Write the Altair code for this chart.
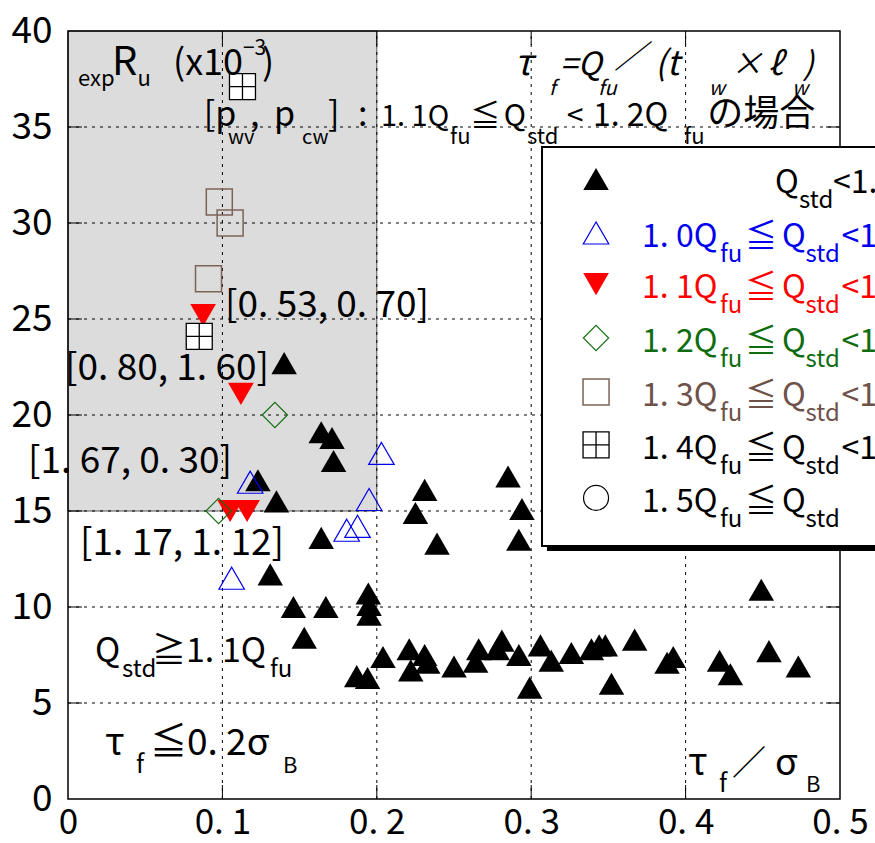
import altair as alt
import pandas as pd

# ---------------- data (x = tau_f / sigma_B, y = expRu x10^-3) ----------------
black_x = [0.140, 0.164, 0.171, 0.172, 0.123, 0.135, 0.164, 0.131, 0.1945, 0.195, 0.195,
           0.146, 0.167, 0.153, 0.187, 0.194, 0.204, 0.221, 0.222, 0.231, 0.233, 0.250,
           0.266, 0.264, 0.281, 0.278, 0.292, 0.299, 0.306, 0.313, 0.326, 0.339, 0.344,
           0.348, 0.352, 0.367, 0.392, 0.388, 0.422, 0.429, 0.454, 0.473, 0.449, 0.231,
           0.225, 0.239, 0.285, 0.294, 0.292]
black_y = [22.7, 19.1, 18.8, 17.6, 16.6, 15.5, 13.6, 11.7, 10.7, 10.1, 9.6,
           10.0, 10.0, 8.4, 6.4, 6.3, 7.4, 7.8, 6.7, 7.5, 7.1, 6.9,
           7.8, 7.15, 8.25, 7.8, 7.5, 5.8, 8.0, 7.2, 7.6, 7.8, 8.0,
           8.0, 6.0, 8.3, 7.4, 7.1, 7.2, 6.5, 7.7, 6.9, 10.9, 16.1,
           14.9, 13.3, 16.8, 15.1, 13.5]
blue_x = [0.118, 0.203, 0.195, 0.1805, 0.1875, 0.106]
blue_y = [16.5, 18.0, 15.6, 14.0, 14.2, 11.5]
red_x = [0.0875, 0.112, 0.105, 0.116]
red_y = [25.2, 21.1, 15.0, 15.0]
green_x = [0.134, 0.0975]
green_y = [20.0, 15.0]
brown_x = [0.098, 0.105, 0.091]
brown_y = [31.1, 30.0, 27.1]
grid_x = [0.113, 0.085]
grid_y = [37.1, 24.1]
circle_x = []
circle_y = []

x_ticks = [0, 0.1, 0.2, 0.3, 0.4, 0.5]
y_ticks = [0, 5, 10, 15, 20, 25, 30, 35, 40]
shade_x = [0, 0.2]
shade_y = [15, 40]

legend_lo = [None, "1. 0", "1. 1", "1. 2", "1. 3", "1. 4", "1. 5"]
legend_hi = ["1. 0", "1. 1", "1. 2", "1. 3", "1. 4", "1. 5", None]

# ---------------- styling ----------------
BLUE = "#0000ee"
RED = "#ff0000"
GREEN = "#106c10"
BROWN_TXT = "#6e5249"
BROWN_MK = "#7d6259"
FONT_MAIN = "'Noto Sans CJK JP', sans-serif"
FONT_SUB = "'Noto Sans CJK JP', sans-serif"
GRIDSQ = "M-1,-1H1V1H-1Z M0,-1V1 M-1,0H1"

legend_colors = ["black", BLUE, RED, GREEN, BROWN_TXT, "black", "black"]
legend_mx = 0.342
legend_my = [32.29, 29.48, 26.82, 24.01, 21.20, 18.44, 15.68]

XS = alt.Scale(domain=[0, 0.5], nice=False, zero=False)
YS = alt.Scale(domain=[0, 40], nice=False, zero=False)


def X(field="x", axis=None):
    if axis is None:
        return alt.X(f"{field}:Q", scale=XS, title=None)
    return alt.X(f"{field}:Q", scale=XS, title=None, axis=axis)


def Y(field="y", axis=None):
    if axis is None:
        return alt.Y(f"{field}:Q", scale=YS, title=None)
    return alt.Y(f"{field}:Q", scale=YS, title=None, axis=axis)


def pts(xs, ys):
    return pd.DataFrame({"x": xs, "y": ys})


layers = []

# shaded region + axes
x_axis = alt.Axis(values=x_ticks,
                  labelExpr="datum.value == 0 ? '0' : replace(format(datum.value, '.1f'), '.', '. ')",
                  labelFont=FONT_MAIN, labelFontSize=35, labelColor="black", ticks=False,
                  domain=False, grid=False, labelPadding=6, labelFlush=False, labelOverlap=False)
y_axis = alt.Axis(values=y_ticks, format="d", labelFont=FONT_MAIN, labelFontSize=37,
                  labelColor="black", ticks=False, domain=False, grid=False, labelPadding=16,
                  labelOverlap=False)
shade = pd.DataFrame({"x": [shade_x[0]], "x2": [shade_x[1]], "y": [shade_y[0]], "y2": [shade_y[1]]})
layers.append(alt.Chart(shade).mark_rect(fill="#dcdcdc", stroke="#555555", strokeWidth=1).encode(
    x=X(axis=x_axis), x2="x2:Q", y=Y(axis=y_axis), y2="y2:Q"))

# dotted grid
vg = pd.DataFrame({"v": x_ticks[1:-1]})
hg = pd.DataFrame({"v": y_ticks[1:-1]})
layers.append(alt.Chart(vg).mark_rule(color="black", strokeWidth=1, strokeDash=[3, 5]).encode(
    x=X("v"), y=alt.datum(0, scale=YS), y2=alt.datum(40)))
layers.append(alt.Chart(hg).mark_rule(color="black", strokeWidth=1, strokeDash=[3, 5]).encode(
    y=Y("v"), x=alt.datum(0, scale=XS), x2=alt.datum(0.5)))

# frame
frame = pd.DataFrame({"x": [0], "x2": [0.5], "y": [0], "y2": [40]})
layers.append(alt.Chart(frame).mark_rect(fill="white", fillOpacity=0, stroke="black", strokeWidth=1.5).encode(
    x=X(), x2="x2:Q", y=Y(), y2="y2:Q"))

# inward ticks
layers.append(alt.Chart(vg).mark_rule(color="black", strokeWidth=1).encode(
    x=X("v"), y=alt.value(768), y2=alt.value(754)))
layers.append(alt.Chart(vg).mark_rule(color="black", strokeWidth=1).encode(
    x=X("v"), y=alt.value(0), y2=alt.value(14)))
layers.append(alt.Chart(hg).mark_rule(color="black", strokeWidth=1).encode(
    y=Y("v"), x=alt.value(0), x2=alt.value(14)))
layers.append(alt.Chart(hg).mark_rule(color="black", strokeWidth=1).encode(
    y=Y("v"), x=alt.value(758), x2=alt.value(772)))

# marker styles
styles = [
    dict(shape="triangle-up", filled=True, color="black", size=650, strokeWidth=0),
    dict(shape="triangle-up", filled=False, color=BLUE, size=650, strokeWidth=1.2),
    dict(shape="triangle-down", filled=True, color=RED, size=660, strokeWidth=0),
    dict(shape="diamond", filled=False, color=GREEN, size=640, strokeWidth=1.1),
    dict(shape="square", filled=False, color=BROWN_MK, size=676, strokeWidth=1.5),
    dict(shape=GRIDSQ, filled=True, fill="white", stroke="black", size=676, strokeWidth=1.3),
    dict(shape="circle", filled=False, color="black", size=625, strokeWidth=1.2),
]
series = [(black_x, black_y), (blue_x, blue_y), (red_x, red_y), (green_x, green_y),
          (brown_x, brown_y), (grid_x, grid_y), (circle_x, circle_y)]


def marker(df, st):
    return alt.Chart(df).mark_point(opacity=1, **st).encode(x=X(), y=Y())


for (xs, ys), st in zip(series, styles):
    if len(xs):
        layers.append(marker(pts(xs, ys), st))

# legend box
shadow = pd.DataFrame({"x": [0.3102], "x2": [0.56], "y": [12.92], "y2": [33.70]})
box = pd.DataFrame({"x": [0.307], "x2": [0.56], "y": [13.18], "y2": [33.96]})
layers.append(alt.Chart(shadow).mark_rect(fill="black").encode(x=X(), x2="x2:Q", y=Y(), y2="y2:Q"))
layers.append(alt.Chart(box).mark_rect(fill="white", stroke="black", strokeWidth=2).encode(
    x=X(), x2="x2:Q", y=Y(), y2="y2:Q"))
for i, st in enumerate(styles):
    layers.append(marker(pts([legend_mx], [legend_my[i]]), st))

main_rows = []
sub_rows = []
for i in range(7):
    c = legend_colors[i]
    ym = legend_my[i] - 0.73
    ys = legend_my[i] - 1.51
    if legend_lo[i] is None:
        main_rows.append(("Q", 0.4579, ym, 32, c))
        sub_rows.append(("std", 0.4735, ys, 24, c))
        main_rows.append(("<" + legend_hi[i] + "Q", 0.4955, ym, 32, c))
    else:
        main_rows.append((legend_lo[i] + "Q", 0.3718, ym, 32, c))
        sub_rows.append(("fu", 0.4223, ys, 24, c))
        main_rows.append(("≦", 0.4385, ym, 32, c))
        main_rows.append(("Q", 0.4625, ym, 32, c))
        sub_rows.append(("std", 0.4777, ys, 24, c))
        if legend_hi[i] is not None:
            main_rows.append(("<" + legend_hi[i] + "Q", 0.5010, ym, 32, c))

# annotations (data coordinates)
main_rows += [
    ("R", 0.0285, 37.71, 40, "black"),
    ("(x10", 0.0680, 37.71, 36, "black"),
    (")", 0.1256, 37.71, 36, "black"),
    ("[p", 0.0880, 35.05, 34, "black"),
    (",", 0.1179, 35.05, 34, "black"),
    ("p", 0.1334, 35.05, 34, "black"),
    ("]", 0.1684, 35.05, 34, "black"),
    (":", 0.1878, 35.05, 34, "black"),
    ("1. 1Q", 0.2027, 35.05, 29, "black"),
    ("≦", 0.2605, 35.05, 30, "black"),
    ("Q", 0.2823, 35.05, 30, "black"),
    ("<", 0.3230, 35.05, 30, "black"),
    ("1. 2Q", 0.3400, 35.05, 32, "black"),
    ("の場合", 0.4140, 35.05, 36, "black"),
    ("[0. 53, 0. 70]", 0.1017, 25.10, 37, "black"),
    ("[0. 80, 1. 60]", -0.0019, 21.82, 37, "black"),
    ("[1. 67, 0. 30]", -0.0259, 16.98, 37, "black"),
    ("[1. 17, 1. 12]", 0.0078, 12.71, 37, "black"),
    ("Q", 0.0175, 7.135, 34, "black"),
    ("≧1. 1Q", 0.0544, 7.135, 34, "black"),
    ("τ", 0.0240, 2.29, 38, "black"),
    ("≦0. 2σ", 0.0531, 2.29, 37, "black"),
    ("τ", 0.4016, 1.25, 38, "black"),
    ("／", 0.4301, 1.25, 34, "black"),
    ("σ", 0.4579, 1.25, 37, "black"),
]
sub_rows += [
    ("exp", 0.0065, 37.14, 22, "black"),
    ("u", 0.0450, 37.14, 22, "black"),
    ("−3", 0.1133, 38.75, 21, "black"),
    ("wv", 0.1036, 34.11, 20, "black"),
    ("cw", 0.1516, 34.11, 20, "black"),
    ("fu", 0.2474, 34.11, 22, "black"),
    ("std", 0.2973, 34.11, 22, "black"),
    ("fu", 0.3990, 34.11, 22, "black"),
    ("std", 0.0350, 6.354, 24, "black"),
    ("fu", 0.1308, 6.354, 24, "black"),
    ("f", 0.0440, 1.354, 25, "black"),
    ("B", 0.1392, 1.354, 22, "black"),
    ("f", 0.4216, 0.365, 25, "black"),
    ("B", 0.4780, 0.365, 22, "black"),
]
ital_main = [
    ("τ", 0.2890, 37.71, 36, "black"),
    ("=Q", 0.3187, 37.71, 32, "black"),
    ("／", 0.3540, 38.07, 32, "black"),
    ("(t", 0.3802, 37.71, 34, "black"),
    ("×", 0.4294, 37.71, 32, "black"),
    ("ℓ", 0.4534, 37.71, 32, "black"),
    (")", 0.4760, 37.71, 32, "black"),
]
ital_sub = [
    ("f", 0.3115, 36.67, 20, "black"),
    ("fu", 0.3433, 36.67, 20, "black"),
    ("w", 0.4150, 36.67, 20, "black"),
    ("w", 0.4689, 36.67, 20, "black"),
]


def text_layer(rows, font, italic=False):
    df = pd.DataFrame(rows, columns=["text", "x", "y", "size", "color"])
    return alt.Chart(df).mark_text(
        align="left", baseline="alphabetic", font=font,
        fontStyle="italic" if italic else "normal").encode(
        x=X(), y=Y(), text="text:N",
        size=alt.Size("size:Q", scale=None),
        color=alt.Color("color:N", scale=None))


layers.append(text_layer(main_rows, FONT_MAIN))
layers.append(text_layer(sub_rows, FONT_SUB))
layers.append(text_layer(ital_main, FONT_MAIN, italic=True))
layers.append(text_layer(ital_sub, FONT_SUB, italic=True))

chart = alt.layer(*layers).properties(
    width=772, height=768,
    padding={"left": 68, "top": 31, "right": 35, "bottom": 44},
    autosize=alt.AutoSizeParams(type="none"),
    background="white",
).configure_view(strokeWidth=0)

chart.save("out.html", embed_options={"renderer": "svg", "actions": False})
